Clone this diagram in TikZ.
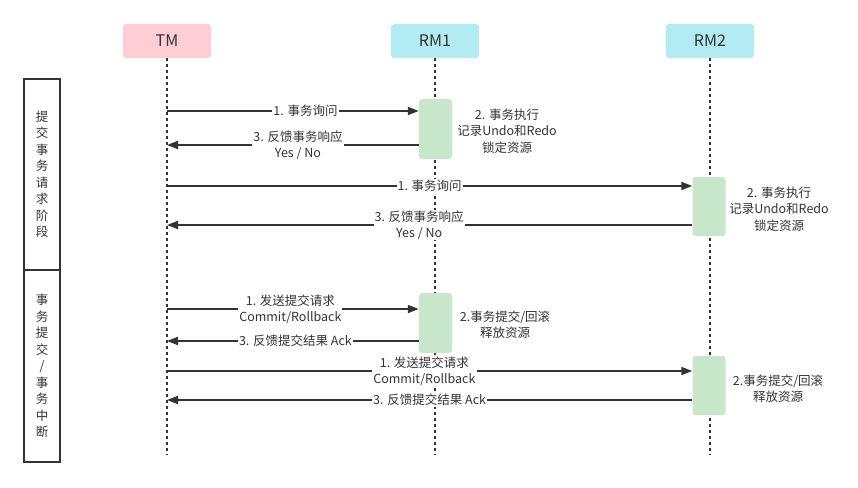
\documentclass[tikz,border=0pt]{standalone}
\usepackage{fontspec}
\setmainfont{Noto Sans CJK SC}
\usetikzlibrary{positioning,arrows.meta,calc}
\definecolor{ink}{HTML}{333333}
\definecolor{ctm}{HTML}{FFCDD3}
\definecolor{crm}{HTML}{B3EBF2}
\definecolor{cact}{HTML}{C8E6C9}
\tikzset{
  hdr/.style={draw=none, rounded corners=3pt, minimum width=88pt, minimum height=34pt,
              inner sep=0pt, font=\fontsize{16}{18}\selectfont, text=ink},
  life/.style={draw=ink, line width=1.6pt, dash pattern=on 3pt off 3pt},
  act/.style={fill=cact, rounded corners=3pt, minimum width=33pt, inner sep=0pt},
  msg/.style={-{Triangle[length=11pt,width=8pt]}, line width=1.8pt, draw=ink},
  lbl/.style={fill=white, inner sep=1pt, align=center, text=ink,
              font=\fontsize{12.5}{16}\selectfont},
  note/.style={align=center, text=ink, inner sep=0pt, font=\fontsize{12.5}{16.5}\selectfont},
  phase/.style={draw=ink, line width=2pt, minimum width=36pt, inner sep=0pt},
  phtxt/.style={align=center, text=ink, inner sep=0pt, font=\fontsize{12.5}{16.5}\selectfont},
}
\begin{document}
\begin{tikzpicture}[x=1pt,y=-1pt]
\useasboundingbox (0,0) rectangle (858,487);
% participants
\node[hdr, fill=ctm] (tm) at (167,41) {TM};
\node[hdr, fill=crm] (rm1) at (435,41) {RM1};
\node[hdr, fill=crm] (rm2) at (710,41) {RM2};
\coordinate (tmEnd) at (167,455);
\coordinate (rm1End) at (435,455);
\coordinate (rm2End) at (710,455);
\draw[life] (tm.south) -- (tmEnd);
\draw[life] (rm1.south) -- (rm1End);
\draw[life] (rm2.south) -- (rm2End);
% phases
\node[phase, minimum height=191pt] (ph1) at (42,174.5) {};
\node[phase, minimum height=192pt] (ph2) at (42,366) {};
\node[phtxt] at (ph1.center) {提\\交\\事\\务\\请\\求\\阶\\段};
\node[phtxt] at (ph2.center) {事\\务\\提\\交\\/\\事\\务\\中\\断};
% activations
\node[act, minimum height=60pt] (a1) at (435.5,129) {};
\node[act, minimum height=59pt] (a2) at (709,206.5) {};
\node[act, minimum height=60pt] (a3) at (435.5,323) {};
\node[act, minimum height=59pt] (a4) at (709,385.5) {};
% points on TM lifeline
\coordinate (t1) at (167,111);
\coordinate (t2) at (167,145);
\coordinate (t3) at (167,186);
\coordinate (t4) at (167,225);
\coordinate (t5) at (167,309);
\coordinate (t6) at (167,341);
\coordinate (t7) at (167,371);
\coordinate (t8) at (167,400);
% phase 1
\draw[msg] (t1) -- node[lbl, pos=0.55] {1. 事务询问} (a1.west |- t1);
\draw[msg] (a1.west |- t2) -- node[lbl, pos=0.48] {3. 反馈事务响应\\Yes / No} (t2);
\node[note] (n1) at (507,131) {2. 事务执行\\记录Undo和Redo\\锁定资源};
\draw[msg] (t3) -- node[lbl, midway] {1. 事务询问} (a2.west |- t3);
\draw[msg] (a2.west |- t4) -- node[lbl, pos=0.52] {3. 反馈事务响应\\Yes / No} (t4);
\node[note] (n2) at (779,209) {2. 事务执行\\记录Undo和Redo\\锁定资源};
% phase 2
\draw[msg] (t5) -- node[lbl, pos=0.49] {1. 发送提交请求\\Commit/Rollback} (a3.west |- t5);
\draw[msg] (a3.west |- t6) -- node[lbl, pos=0.49] {3. 反馈提交结果 Ack} (t6);
\node[note] (n3) at (505,324.5) {2.事务提交/回滚\\释放资源};
\draw[msg] (t7) -- node[lbl, pos=0.49] {1. 发送提交请求\\Commit/Rollback} (a4.west |- t7);
\draw[msg] (a4.west |- t8) -- node[lbl, pos=0.5] {3. 反馈提交结果 Ack} (t8);
\node[note] (n4) at (778,388.5) {2.事务提交/回滚\\释放资源};
\end{tikzpicture}
\end{document}
